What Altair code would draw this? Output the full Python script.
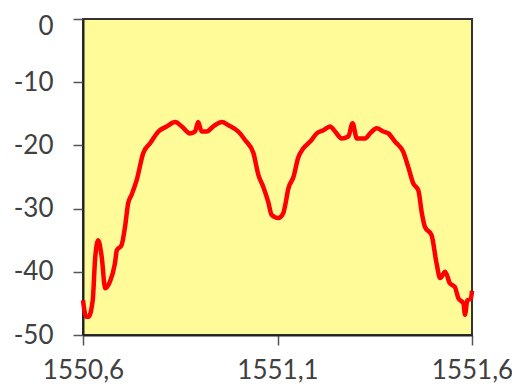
import altair as alt
import pandas as pd

wavelength = [1550.600, 1550.608, 1550.614, 1550.625, 1550.631, 1550.639, 1550.648, 1550.657,
              1550.669, 1550.682, 1550.687, 1550.699, 1550.708, 1550.716, 1550.725, 1550.738,
              1550.755, 1550.772, 1550.794, 1550.815, 1550.837, 1550.854, 1550.875, 1550.888,
              1550.896, 1550.905, 1550.918, 1550.935, 1550.957, 1550.974, 1550.999, 1551.016,
              1551.038, 1551.051, 1551.063, 1551.076, 1551.085, 1551.102, 1551.115, 1551.119,
              1551.128, 1551.141, 1551.153, 1551.166, 1551.184, 1551.201, 1551.218, 1551.235,
              1551.248, 1551.265, 1551.282, 1551.293, 1551.304, 1551.325, 1551.338, 1551.355,
              1551.372, 1551.385, 1551.402, 1551.423, 1551.436, 1551.449, 1551.462, 1551.471,
              1551.479, 1551.496, 1551.509, 1551.518, 1551.531, 1551.543, 1551.556, 1551.565,
              1551.578, 1551.582, 1551.588, 1551.597, 1551.600]
power_db = [-44.5, -47.1, -47.1, -44.5, -38.1, -35.0, -37.6, -42.6,
            -41.6, -38.7, -36.6, -35.8, -32.9, -29.2, -27.8, -25.5,
            -21.2, -19.7, -17.8, -17.0, -16.3, -17.0, -18.1, -17.8,
            -16.3, -17.8, -17.8, -17.0, -16.3, -16.8, -17.8, -19.1,
            -21.2, -24.7, -26.5, -28.9, -31.0, -31.5, -30.7, -29.7,
            -26.8, -25.0, -22.0, -20.5, -19.4, -18.1, -17.6, -17.0,
            -17.8, -18.9, -18.6, -16.5, -18.9, -18.9, -18.1, -17.3,
            -17.8, -18.1, -19.4, -21.0, -23.4, -26.0, -27.1, -30.7,
            -32.9, -34.2, -38.7, -41.0, -40.0, -41.8, -42.4, -44.2,
            -45.0, -46.8, -44.5, -44.3, -43.0]

x_ticks = [1550.6, 1551.1, 1551.6]
y_ticks = [0, -10, -20, -30, -40, -50]

df = pd.DataFrame({"wl": wavelength, "p": power_db})

font = "Lato"
text_color = "#404040"

chart = alt.Chart(df).mark_line(color="#FF0000", strokeWidth=4.5, clip=False,
                                interpolate="monotone").encode(
    x=alt.X("wl:Q",
            scale=alt.Scale(domain=[1550.6, 1551.6], nice=False, zero=False),
            axis=alt.Axis(values=x_ticks, title=None, grid=False,
                          labelExpr="replace(format(datum.value, '.1f'), '.', ',')",
                          labelFlush=False, labelFont=font, labelFontSize=26,
                          labelColor=text_color, labelPadding=12,
                          tickSize=10, tickColor="#555555", tickWidth=1.5,
                          domainColor="#222222", domainWidth=2)),
    y=alt.Y("p:Q",
            scale=alt.Scale(domain=[-50, 0], nice=False, zero=False),
            axis=alt.Axis(values=y_ticks, title=None, grid=False,
                          labelExpr="'' + datum.value",
                          labelOffset={"condition": {"test": "datum.value == 0", "value": 7}, "value": 0},
                          labelFont=font, labelFontSize=26, labelColor=text_color,
                          labelPadding=20, labelFlush=False,
                          tickSize=10, tickColor="#555555", tickWidth=1.5,
                          domainColor="#222222", domainWidth=2)),
).properties(
    width=389, height=316,
    background="white",
    autosize=alt.AutoSizeParams(type="none"),
    padding={"left": 75, "top": 11, "right": 40, "bottom": 49},
).configure_view(
    fill="#FFFB99", stroke="#333333", strokeWidth=2
)

chart.save("out.html", embed_options={"renderer": "svg", "actions": False})
